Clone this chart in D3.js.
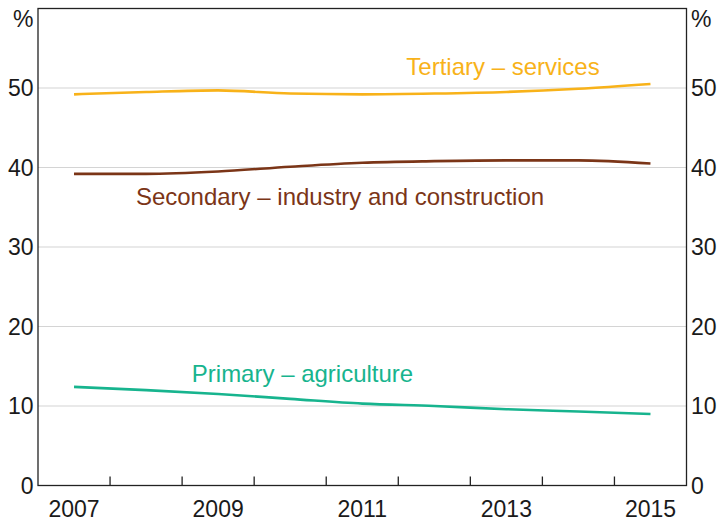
<!DOCTYPE html>
<html>
<head>
<meta charset="utf-8">
<script src="https://cdn.jsdelivr.net/npm/d3@7"></script>
<style>
  html, body { margin: 0; padding: 0; background: #fff; }
  svg { display: block; font-family: Arial, "Liberation Sans", sans-serif; }
</style>
</head>
<body>
<svg id="chart" width="718" height="521"></svg>
<script>
const years = [2007, 2008, 2009, 2010, 2011, 2012, 2013, 2014, 2015];
const yearLabels = [2007, 2009, 2011, 2013, 2015];
const yTicks = [0, 10, 20, 30, 40, 50];
const tertiary  = [49.2, 49.5, 49.7, 49.3, 49.2, 49.3, 49.5, 49.9, 50.5];
const secondary = [39.2, 39.2, 39.5, 40.1, 40.6, 40.8, 40.9, 40.9, 40.5];
const primary   = [12.4, 12.0, 11.5, 10.9, 10.3, 10.0, 9.6, 9.3, 9.0];
const seriesNames = ["Tertiary – services", "Secondary – industry and construction", "Primary – agriculture"];

const svg = d3.select("#chart");
const L = 38, R = 686.5, T = 8.5, B = 485.5;

const x = d3.scaleBand().domain(years).range([L, R]).padding(0);
const y = d3.scaleLinear().domain([0, 60]).range([B, T]);

// gridlines
svg.append("g").selectAll("line").data(yTicks.filter(d => d > 0)).join("line")
  .attr("x1", L).attr("x2", R)
  .attr("y1", d => y(d)).attr("y2", d => y(d))
  .attr("stroke", "#d4d4d4").attr("stroke-width", 1.2);

// frame
svg.append("rect").attr("x", L).attr("y", T).attr("width", R - L).attr("height", B - T)
  .attr("fill", "none").attr("stroke", "#222").attr("stroke-width", 1.3);

// x ticks at band boundaries (inward)
const bounds = years.slice(1).map(d => x(d));
svg.append("g").selectAll("line").data(bounds).join("line")
  .attr("x1", d => d).attr("x2", d => d)
  .attr("y1", B).attr("y2", B - 9)
  .attr("stroke", "#222").attr("stroke-width", 1.3);

// x labels
svg.append("g").selectAll("text").data(yearLabels).join("text")
  .attr("x", d => x(d) + x.bandwidth() / 2)
  .attr("y", 517)
  .attr("text-anchor", "middle")
  .attr("font-size", 23)
  .attr("fill", "#1a1a1a")
  .text(d => d);

// y labels left & right
const fs = 23;
svg.append("g").selectAll("text").data(yTicks).join("text")
  .attr("x", 33.5).attr("y", d => y(d)).attr("dy", "0.36em")
  .attr("text-anchor", "end").attr("font-size", fs).attr("fill", "#1a1a1a")
  .text(d => d);
svg.append("g").selectAll("text").data(yTicks).join("text")
  .attr("x", 691).attr("y", d => y(d)).attr("dy", "0.36em")
  .attr("text-anchor", "start").attr("font-size", fs).attr("fill", "#1a1a1a")
  .text(d => d);
svg.append("text").attr("x", 33.5).attr("y", 27).attr("text-anchor", "end")
  .attr("font-size", fs).attr("fill", "#1a1a1a").text("%");
svg.append("text").attr("x", 691).attr("y", 27).attr("text-anchor", "start")
  .attr("font-size", fs).attr("fill", "#1a1a1a").text("%");

// lines
const line = d3.line()
  .x((d, i) => x(years[i]) + x.bandwidth() / 2)
  .y(d => y(d))
  .curve(d3.curveMonotoneX);

const colors = ["#F8B219", "#7B3517", "#17B48E"];
[tertiary, secondary, primary].forEach((s, i) => {
  svg.append("path").datum(s)
    .attr("d", line)
    .attr("fill", "none")
    .attr("stroke", colors[i])
    .attr("stroke-width", 2.6);
});

// series labels
const labelPos = [
  { x: 503, y: 75 },
  { x: 340, y: 205 },
  { x: 302.5, y: 382 }
];
seriesNames.forEach((n, i) => {
  svg.append("text")
    .attr("x", labelPos[i].x).attr("y", labelPos[i].y)
    .attr("text-anchor", "middle")
    .attr("font-size", 24)
    .attr("fill", colors[i])
    .text(n);
});
</script>
</body>
</html>
